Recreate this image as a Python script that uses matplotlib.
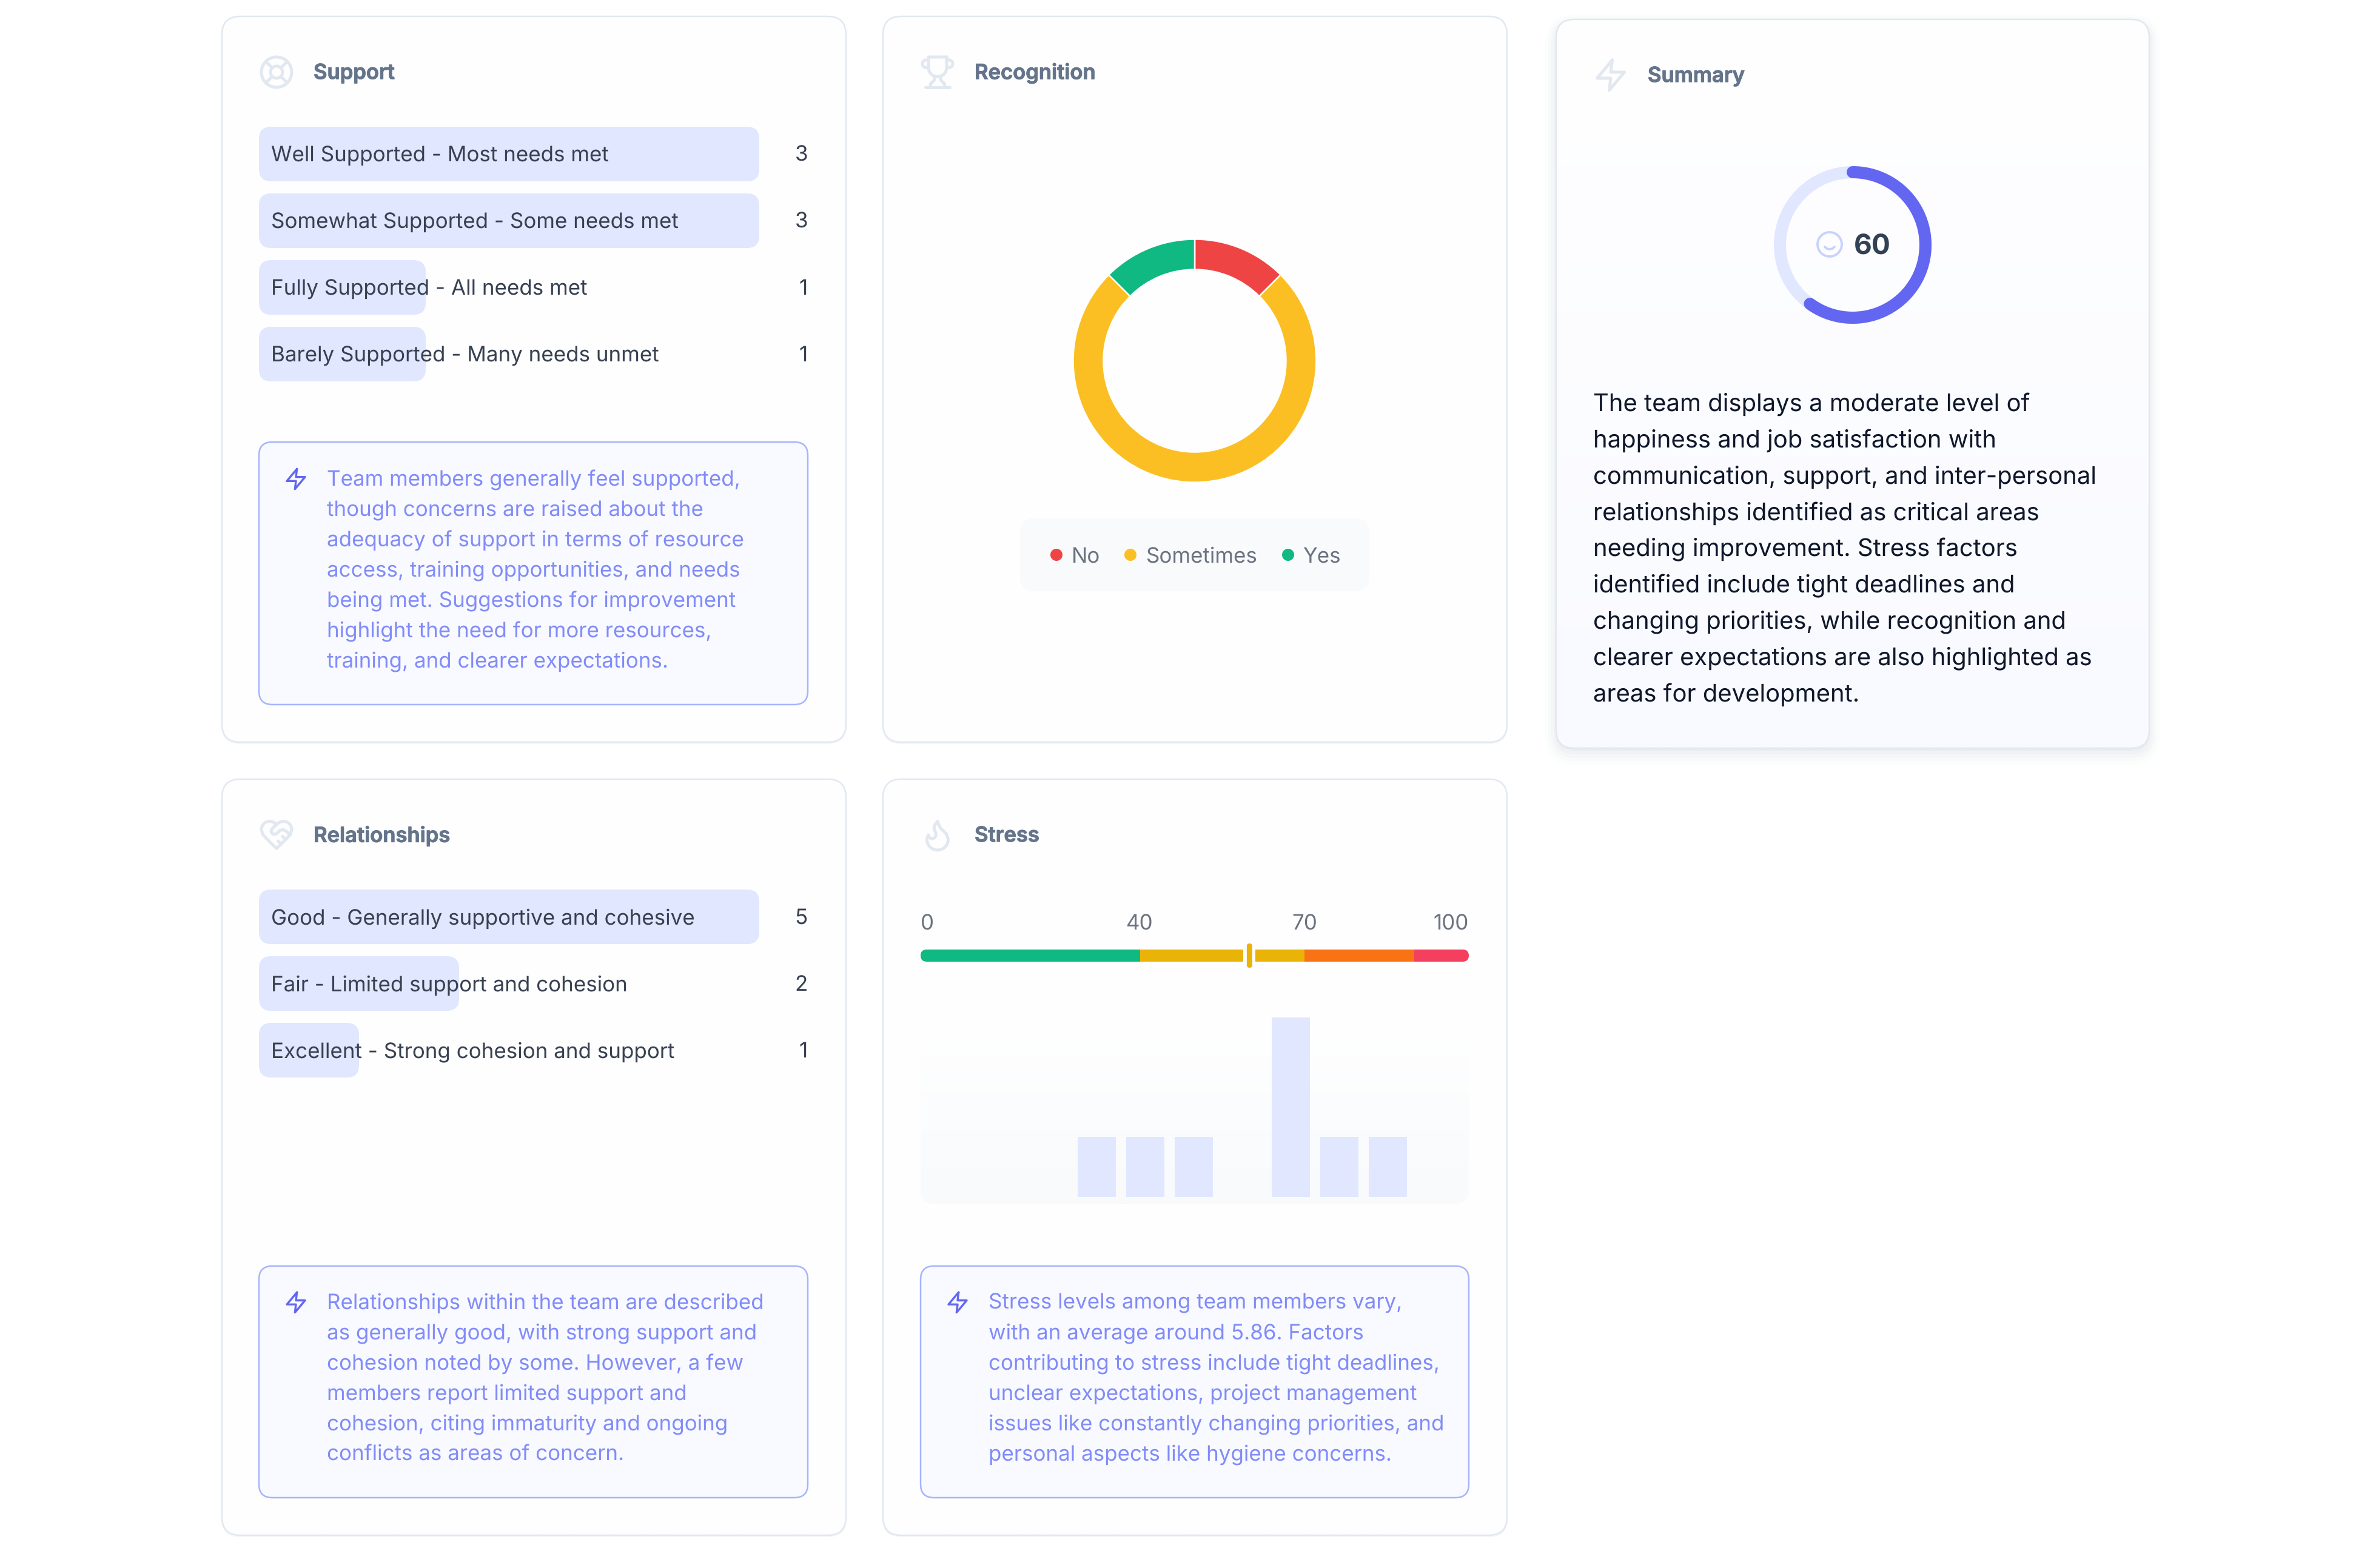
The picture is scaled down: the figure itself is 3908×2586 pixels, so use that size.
import numpy as np
import matplotlib
matplotlib.use('Agg')
import matplotlib.pyplot as plt
import matplotlib.patheffects as pe
from matplotlib.patches import FancyBboxPatch, Arc, Circle
from matplotlib.colors import to_rgb

W, H = 3908, 2586
plt.rcParams['font.family'] = ['Inter', 'DejaVu Sans']
plt.rcParams['text.hinting'] = 'no_hinting'
plt.rcParams['text.hinting_factor'] = 1

support_labels = ['Well Supported - Most needs met', 'Somewhat Supported - Some needs met',
                  'Fully Supported - All needs met', 'Barely Supported - Many needs unmet']
support_counts = [3, 3, 1, 1]
rel_labels = ['Good - Generally supportive and cohesive', 'Fair - Limited support and cohesion',
              'Excellent - Strong cohesion and support']
rel_counts = [5, 2, 1]
recog_labels = ['No', 'Sometimes', 'Yes']
recog_values = [1, 6, 1]
recog_colors = ['#ef4444', '#fbbf24', '#10b981']
summary_score = 60
stress_edges = [0, 40, 70, 90, 100]
stress_colors = ['#10b981', '#eab308', '#f97316', '#f43f5e']
stress_ticks = [0, 40, 70, 100]
stress_marker = 60
stress_bins = [0, 1, 2, 3, 4, 5, 6, 7, 8, 9, 10]
stress_hist = [0, 0, 0, 1, 1, 1, 0, 3, 1, 1, 0]

support_note = ['Team members generally feel supported,', 'though concerns are raised about the',
                'adequacy of support in terms of resource', 'access, training opportunities, and needs',
                'being met. Suggestions for improvement', 'highlight the need for more resources,',
                'training, and clearer expectations.']
rel_note = ['Relationships within the team are described', 'as generally good, with strong support and',
            'cohesion noted by some. However, a few', 'members report limited support and',
            'cohesion, citing immaturity and ongoing', 'conflicts as areas of concern.']
stress_note = ['Stress levels among team members vary,', 'with an average around 5.86. Factors',
               'contributing to stress include tight deadlines,', 'unclear expectations, project management',
               'issues like constantly changing priorities, and', 'personal aspects like hygiene concerns.']
summary_text = ['The team displays a moderate level of', 'happiness and job satisfaction with',
                'communication, support, and inter-personal', 'relationships identified as critical areas',
                'needing improvement. Stress factors', 'identified include tight deadlines and',
                'changing priorities, while recognition and', 'clearer expectations are also highlighted as',
                'areas for development.']

# lucide style icons, 24 unit box, as rough polylines
def arc_pts(cx, cy, r, a0, a1, n=24):
    t = np.radians(np.linspace(a0, a1, n))
    return list(zip(cx + r*np.cos(t), cy + r*np.sin(t)))

ICON_ZAP = [[(13, 2), (3, 14), (12, 14), (11, 22), (21, 10), (12, 10), (13, 2)]]
ICON_BUOY = [arc_pts(12, 12, 10, 0, 360, 60), arc_pts(12, 12, 4, 0, 360, 30),
             [(4.93, 4.93), (9.17, 9.17)], [(14.83, 9.17), (19.07, 4.93)],
             [(14.83, 14.83), (19.07, 19.07)], [(9.17, 14.83), (4.93, 19.07)]]
ICON_TROPHY = [arc_pts(4.5, 6.5, 2.5, 270, 90) + [(6, 9)], arc_pts(19.5, 6.5, 2.5, 270, 450) + [(18, 9)],
               [(4, 22), (20, 22)],
               [(10, 14.66), (10, 17), (9, 18.2), (7.6, 19.4), (7, 22)],
               [(14, 14.66), (14, 17), (15, 18.2), (16.4, 19.4), (17, 22)],
               [(18, 2), (6, 2), (6, 9)] + arc_pts(12, 9, 6, 180, 0) + [(18, 2)]]
ICON_HEART = [[(19, 14), (21, 11.8), (22, 8.5)] + arc_pts(16.5, 8.5, 5.5, 0, -90) +
              [(14, 3.6), (12, 5), (10, 3.6)] + arc_pts(7.5, 8.5, 5.5, -90, -180) +
              [(3, 11.8), (5, 14), (12, 21), (19, 14)],
              [(12, 5), (9.04, 7.96), (8.4, 9.5), (9.04, 11.04), (10.5, 11.7), (12.04, 11.11), (14.11, 9.21),
               (16, 8.5), (17.9, 9.21), (20.86, 11.87)],
              [(18, 15), (16, 13)], [(15, 18), (13, 16)]]
ICON_FLAME = [[(8.5, 14.5), (10.2, 13.8), (11, 12), (10.6, 10.2), (10, 9), (9.7, 6.8), (10.5, 5), (12, 3),
               (13, 5.8), (14.3, 7.9), (16, 9.5), (18, 11.6), (19, 15)] + arc_pts(12, 15, 7, 0, 180) +
              [(5.3, 13.6), (6, 12), (6.7, 13.8), (8.5, 14.5)]]
ICON_SMILE = [arc_pts(12, 12, 10, 0, 360, 60), [(8, 14), (9.5, 15.5), (12, 16), (14.5, 15.5), (16, 14)],
              [(8.9, 9), (9.1, 9)], [(14.9, 9), (15.1, 9)]]

fig = plt.figure(figsize=(W/100, H/100), dpi=100, facecolor='white')
bg = fig.add_axes([0, 0, 1, 1])
bg.axis('off')

TXT_DY = 3  # matplotlib centres a bit higher than the browser


def pt(px):
    return px*72/100


def px_axes(x0, y0, x1, y1):
    ax = fig.add_axes([x0/W, 1-y1/H, (x1-x0)/W, (y1-y0)/H])
    ax.axis('off')
    ax.patch.set_alpha(0)
    return ax


def rbox(x0, y0, x1, y1, r, **kw):
    p = FancyBboxPatch((x0, y0), x1-x0, y1-y0, boxstyle='round,pad=0,rounding_size=%g' % r, **kw)
    bg.add_patch(p)
    return p


def gradient(x0, y0, x1, y1, c0, c1, clip, zorder=1):
    a, b = np.array(to_rgb(c0)), np.array(to_rgb(c1))
    t = np.linspace(0, 1, 256)[:, None, None]
    img = a[None, None, :]*(1-t) + b[None, None, :]*t
    im = bg.imshow(img, extent=(x0, x1, y1, y0), aspect='auto', zorder=zorder, interpolation='bilinear')
    im.set_clip_path(clip)


def icon(shape, cx, cy, unit, color, lw):
    for line in shape:
        xs = [cx + (p[0]-12)*unit for p in line]
        ys = [cy + (p[1]-12)*unit for p in line]
        bg.plot(xs, ys, color=color, lw=pt(lw), solid_capstyle='round', solid_joinstyle='round', zorder=6)


def card(x0, y0, x1, y1, title, shape, bottom='#fefeff', strong=False):
    if strong:
        for grow, off, al in [(18, 10, 0.012), (13, 9, 0.014), (8, 8, 0.018), (4, 6, 0.022), (1, 3, 0.03)]:
            rbox(x0-grow, y0-grow+off, x1+grow, y1+grow+off, 30+grow, fc='#475569', ec='none', alpha=al, zorder=0.5)
    else:
        rbox(x0-1, y0+1, x1+1, y1+3, 30, fc='#64748b', ec='none', alpha=0.05, zorder=0.5)
    p = rbox(x0, y0, x1, y1, 30, fc='white', ec='none', zorder=1)
    gradient(x0, y0, x1, y1, '#ffffff', bottom, p)
    rbox(x0, y0, x1, y1, 30, fc='none', ec='#e2e8f0', lw=pt(2.5), zorder=2)
    ty = y0 + 90
    icon(shape, x0 + 90, ty + 2, 2.5, '#e2e8f0', 5)
    bg.text(x0 + 151, ty + 1 + TXT_DY, title, fontsize=pt(34.6), fontweight='semibold', color='#64748b', va='center',
            ha='left', zorder=6, path_effects=[pe.withStroke(linewidth=pt(1), foreground='#64748b')])


def note(x0, y0, x1, y1, lines, y_first):
    rbox(x0, y0, x1, y1, 22, fc='#f9faff', ec='#a5b4fc', lw=pt(2.5), zorder=3)
    icon(ICON_ZAP, x0 + 61, y_first, 1.667, '#6366f1', 3.4)
    for i, s in enumerate(lines):
        bg.text(x0 + 112, y_first + i*50 + TXT_DY - 1.5, s, fontsize=pt(35), color='#818cf8', va='center', ha='left', zorder=6)


def bar_list(x0, x1, y_first, labels, counts):
    pitch, bar_h = 110, 90
    n = len(counts)
    scale_px = 825  # width of the largest bar
    ax = px_axes(x0, y_first - pitch/2, x1, y_first + pitch*(n-0.5))
    ax.set_ylim(n-0.5, -0.5)
    xmax = max(counts)*(x1-x0)/scale_px
    ax.set_xlim(0, xmax)
    ux = xmax/(x1-x0)
    uy = 1/pitch
    hh = bar_h/pitch
    for i, v in enumerate(counts):
        ax.add_patch(FancyBboxPatch((0, i-hh/2), v, hh, boxstyle='round,pad=0,rounding_size=%g' % (20*ux),
                                    mutation_aspect=uy/ux, fc='#e0e7ff', ec='none', clip_on=False))
        ax.annotate(labels[i], (0, i), xytext=(pt(20), pt(-TXT_DY)), textcoords='offset points', fontsize=pt(35),
                    color='#374151', va='center', ha='left')
        ax.annotate(str(v), (xmax, i), xytext=(0, pt(-TXT_DY)), textcoords='offset points', fontsize=pt(35),
                    color='#374151', va='center', ha='right')


# cards
card(366, 27, 1395, 1224, 'Support', ICON_BUOY)
card(1456, 27, 2485, 1224, 'Recognition', ICON_TROPHY)
card(2566, 32, 3544, 1234, 'Summary', ICON_ZAP, bottom='#f9faff', strong=True)
card(366, 1285, 1395, 2532, 'Relationships', ICON_HEART)
card(1456, 1285, 2485, 2532, 'Stress', ICON_FLAME)

# support
bar_list(427, 1332, 254, support_labels, support_counts)
note(427, 729, 1332, 1162, support_note, 790)

# relationships
bar_list(427, 1332, 1512, rel_labels, rel_counts)
note(427, 2088, 1332, 2470, rel_note, 2148)

# recognition donut
cx, cy, r = 1970, 595, 200.5
ax = px_axes(cx-r, cy-r, cx+r, cy+r)
ax.pie(recog_values, colors=recog_colors, startangle=90, counterclock=False, radius=1,
       wedgeprops=dict(width=50/200.5, edgecolor='white', linewidth=pt(2.5)))
ax.set_xlim(-1, 1)
ax.set_ylim(-1, 1)

rbox(1682, 855, 2258, 975, 24, fc='#f8fafc', ec='none', zorder=3)
for c, dx, tx, s in zip(recog_colors, [1742, 1864, 2124], [1767, 1889, 2148], recog_labels):
    bg.add_patch(Circle((dx, 915), 10, fc=c, ec='none', zorder=6))
    bg.text(tx, 915 + TXT_DY, s, fontsize=pt(35), color='#6b7280', va='center', ha='left', zorder=6)

# summary gauge
gx, gy, gr = 3055, 404, 130
ax = px_axes(gx-gr, gy-gr, gx+gr, gy+gr)
ax.set_xlim(-gr, gr)
ax.set_ylim(-gr, gr)
ax.add_patch(Circle((0, 0), 120, fc='none', ec='#e0e7ff', lw=pt(20), clip_on=False))
ax.add_patch(Arc((0, 0), 240, 240, theta1=90-360*summary_score/100, theta2=90, ec='#6366f1', lw=pt(20),
                 capstyle='round', clip_on=False))
icon(ICON_SMILE, 3017, 403, 2, '#c7d2fe', 3.8)
bg.text(3087, 404 + 4, str(summary_score), fontsize=pt(46), fontweight='bold', color='#334155', va='center', ha='center', zorder=6)

for i, s in enumerate(summary_text):
    bg.text(2627, 664 + i*59.8 + TXT_DY, s, fontsize=pt(40), color='#0f172a', va='center', ha='left', zorder=6)

# stress scale
sx0, sx1 = 1518, 2422
ax = px_axes(sx0, 1546, sx1, 1606)
ax.set_xlim(0, 100)
ax.set_ylim(-1.5, 1.5)
track = FancyBboxPatch((0, -0.5), 100, 1, boxstyle='round,pad=0,rounding_size=%g' % (10*100/(sx1-sx0)),
                       mutation_aspect=(1/20)/(100/(sx1-sx0)), fc='none', ec='none')
ax.add_patch(track)
for a, b, c in zip(stress_edges[:-1], stress_edges[1:], stress_colors):
    segs = ax.barh(0, b-a, left=a, height=1, color=c, ec='none')
    segs[0].set_clip_path(track)
ax.barh(0, 2.2, left=stress_marker-1.1, height=1, color='white', ec='none')
mw = 1.0
ax.add_patch(FancyBboxPatch((stress_marker-mw/2, -1), mw, 2, boxstyle='round,pad=0,rounding_size=%g' % (mw/2),
                            mutation_aspect=(1/20)/(100/(sx1-sx0)), fc='#eab308', ec='none', clip_on=False))
for t in stress_ticks:
    ha = 'left' if t == 0 else ('right' if t == 100 else 'center')
    ax.annotate(str(t), (t, 0), xytext=(0, pt(1576-1522-TXT_DY)), textcoords='offset points', fontsize=pt(35),
                color='#6b7280', va='center', ha=ha)

# stress histogram
p = rbox(sx0, 1678, sx1, 1986, 24, fc='none', ec='none', zorder=2)
gradient(sx0, 1678, sx1, 1986, '#ffffff', '#f8fafc', p, zorder=2)
ax = px_axes(sx0, 1678, sx1, 1974)
ax.set_xlim((sx0-1568)/80.1, (sx1-1568)/80.1)
ax.set_ylim(0, max(stress_hist))
ax.bar(stress_bins, stress_hist, width=0.785, color='#e0e7ff', ec='none')
note(1518, 2088, 2422, 2470, stress_note, 2148)

bg.set_xlim(0, W)
bg.set_ylim(H, 0)
fig.savefig('out.png', dpi=100)
